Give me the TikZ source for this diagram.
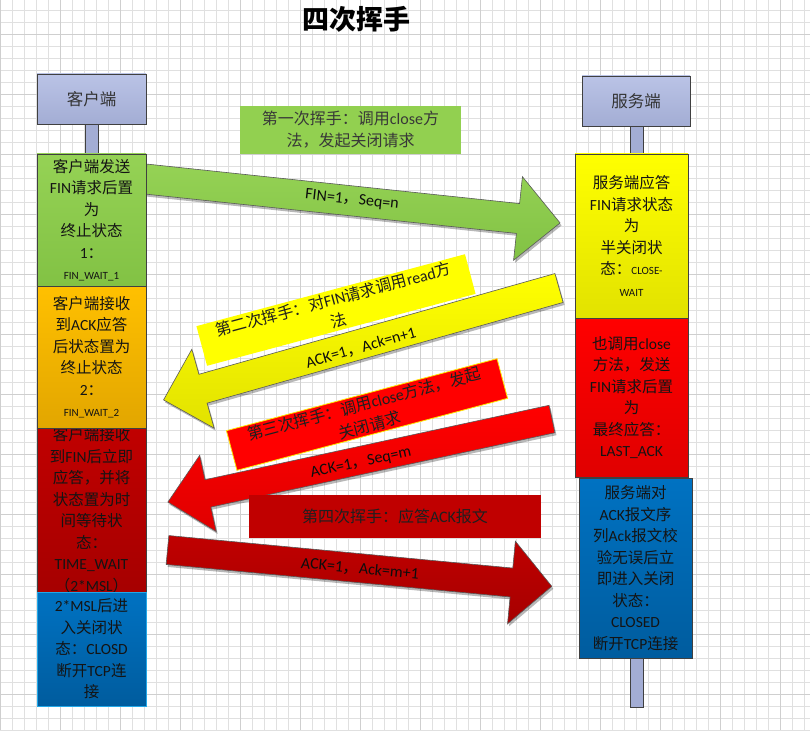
\documentclass[tikz,border=0pt]{standalone}
\usepackage{fontspec}
\setmainfont{Noto Sans CJK SC}
\newfontfamily\latf{Carlito}
\usetikzlibrary{shadows}
\newcommand\lt[1]{{\latf #1}}
\newcommand\sml[1]{{\fontsize{11}{21.5}\selectfont\latf #1}}
\definecolor{hdrtop}{HTML}{BAC3E6}
\definecolor{hdrbot}{HTML}{A3ADD4}
\definecolor{grtop}{HTML}{95D255}
\definecolor{grbot}{HTML}{82C244}
\definecolor{ortop}{HTML}{FFC000}
\definecolor{orbot}{HTML}{E2A600}
\definecolor{drtop}{HTML}{C00000}
\definecolor{drbot}{HTML}{A60000}
\definecolor{bltop}{HTML}{0072C2}
\definecolor{blbot}{HTML}{005C9E}
\definecolor{yetop}{HTML}{FFFF00}
\definecolor{yebot}{HTML}{E2E200}
\definecolor{rdtop}{HTML}{FF0000}
\definecolor{rdbot}{HTML}{E00000}
\definecolor{capgreen}{HTML}{92D050}
\definecolor{capdark}{HTML}{C00000}
\definecolor{blborder}{HTML}{22A8E8}
\tikzset{
  gridminor/.style={draw=black!12, line width=0.6pt},
  gridmajor/.style={draw=black!19, line width=0.8pt},
  hdr/.style={draw=black!75, line width=0.8pt, top color=hdrtop, bottom color=hdrbot,
    minimum width=109pt, minimum height=50pt, inner sep=0pt, text=black!80,
    font=\fontsize{16.5}{20}\selectfont},
  life/.style={draw=black!75, line width=0.8pt, fill=hdrbot, minimum width=13pt, inner sep=0pt},
  statebox/.style={draw=black!75, line width=0.7pt, inner sep=0pt, align=center,
    text=black!92, font=\fontsize{15.5}{21.5}\selectfont},
  blockarrow/.style={draw=black!65, line width=0.6pt,
    drop shadow={shadow xshift=1.5pt, shadow yshift=-2.5pt, opacity=0.28, fill=black}},
  arrowlbl/.style={inner sep=0pt, text=black!95, font=\fontsize{16}{18}\selectfont},
  caption/.style={inner sep=0pt, align=center, text=black!88,
    font=\fontsize{16}{22}\selectfont},
}
\begin{document}
\begin{tikzpicture}[x=1pt,y=-1pt]
\useasboundingbox (0,0) rectangle (810,730);
\fill[white] (0,0) rectangle (810,730);
% grid
\foreach \i in {0,...,67} {\draw[gridminor] (12*\i,0) -- (12*\i,730);}
\foreach \j in {0,...,60} {\draw[gridminor] (0,10+12*\j) -- (810,10+12*\j);}
\foreach \i in {0,5,...,65} {\draw[gridmajor] (12*\i,0) -- (12*\i,730);}
\foreach \j in {2,7,...,57} {\draw[gridmajor] (0,10+12*\j) -- (810,10+12*\j);}

% title
\node[font=\bfseries\fontsize{27}{30}\selectfont, inner sep=0pt] (title) at (356,19) {四次挥手};

% lifelines
\node[life, minimum height=30pt] (cll) at (91.5,139) {};
\node[life, minimum height=28pt] (sll1) at (636.5,140) {};
\node[life, minimum height=49pt] (sll2) at (636.5,682.5) {};

% headers
\node[hdr] (client) at (91.5,99) {客户端};
\node[hdr, minimum width=108pt] (server) at (636,101) {服务端};

% block arrows
\begin{scope}[shift={(145.4,179)}, rotate=-6.05]
  \path[blockarrow, top color=grtop, bottom color=grbot]
    (0,-15) -- (374.7,-15) -- (374.7,-42) -- (417,0) -- (374.7,42) -- (374.7,15) -- (0,15) -- cycle;
\end{scope}
\begin{scope}[shift={(559,288)}, rotate=15.8]
  \path[blockarrow, top color=yetop, bottom color=yebot]
    (0,-15) -- (-370,-15) -- (-370,-41) -- (-411,0) -- (-370,41) -- (-370,15) -- (0,15) -- cycle;
\end{scope}
\begin{scope}[shift={(552,419)}, rotate=12.2]
  \path[blockarrow, top color=rdtop, bottom color=rdbot]
    (0,-14) -- (-352,-14) -- (-352,-39) -- (-393,0) -- (-352,39) -- (-352,14) -- (0,14) -- cycle;
\end{scope}
\begin{scope}[shift={(167.5,550)}, rotate=-5.4]
  \path[blockarrow, top color=drtop, bottom color=drbot]
    (0,-14.5) -- (345.5,-14.5) -- (345.5,-41.5) -- (386,0) -- (345.5,41.5) -- (345.5,14.5) -- (0,14.5) -- cycle;
\end{scope}

% arrow labels
\node[arrowlbl, rotate=-6.05] (t1) at (352,200) {\lt{FIN=1}，\lt{Seq=n}};
\node[arrowlbl, rotate=15.8] (t2) at (361,348) {\lt{ACK=1}，\lt{Ack=n+1}};
\node[arrowlbl, rotate=12.2] (t3) at (361,463) {\lt{ACK=1}，\lt{Seq=m}};
\node[arrowlbl, rotate=-5.4] (t4) at (360,569) {\lt{ACK=1}，\lt{Ack=m+1}};

% captions
\node[caption, fill=capgreen, minimum width=221pt, minimum height=48pt, text=black!78] (k1) at (350.5,130)
  {第一次挥手：调用\lt{close}方\\法，发起关闭请求};
\node[caption, fill=yetop, rotate=15, minimum width=278pt, minimum height=41pt] (k2) at (336,310)
  {第二次挥手：对\lt{FIN}请求调用\lt{read}方\\法};
\node[caption, fill=rdtop, draw=yellow!90!orange, line width=0.8pt, rotate=14.9, minimum width=280pt, minimum height=41pt] (k3) at (367,414.5)
  {第三次挥手：调用\lt{close}方法，发起\\关闭请求};
\node[caption, fill=capdark, minimum width=292pt, minimum height=43pt] (k4) at (395,516.5)
  {第四次挥手：应答\lt{ACK}报文};

% client state boxes
\node[statebox, top color=drtop, bottom color=drbot, minimum width=109pt, minimum height=164pt] (c3) at (91.5,510)
  {客户端接收\\到\lt{FIN}后立即\\应答，并将\\状态置为时\\间等待状\\态：\\\lt{TIME\_WAIT}\\（\lt{2*MSL}）};
\node[statebox, top color=ortop, bottom color=orbot, minimum width=109pt, minimum height=142pt] (c2) at (91.5,357)
  {客户端接收\\到\lt{ACK}应答\\后状态置为\\终止状态\\\lt{2}：\\\sml{FIN\_WAIT\_2}};
\node[statebox, top color=grtop, bottom color=grbot, minimum width=109pt, minimum height=132pt] (c1) at (91.5,220)
  {客户端发送\\\lt{FIN}请求后置\\为\\终止状态\\\lt{1}：\\\sml{FIN\_WAIT\_1}};
\node[statebox, draw=blborder, top color=bltop, bottom color=blbot, minimum width=109pt, minimum height=114pt] (c4) at (91.5,649)
  {\lt{2*MSL}后进\\入关闭状\\态：\lt{CLOSD}\\断开\lt{TCP}连\\接};

% server state boxes
\node[statebox, top color=yetop, bottom color=yebot, minimum width=113pt, minimum height=164pt] (s1) at (631.5,236)
  {服务端应答\\\lt{FIN}请求状态\\为\\半关闭状\\态：\sml{CLOSE-}\\\sml{WAIT}};
\node[statebox, top color=rdtop, bottom color=rdbot, minimum width=113pt, minimum height=159pt] (s2) at (631.5,397.5)
  {也调用\lt{close}\\方法，发送\\\lt{FIN}请求后置\\为\\最终应答：\\\lt{LAST\_ACK}};
\node[statebox, top color=bltop, bottom color=blbot, minimum width=113pt, minimum height=180pt] (s3) at (635.5,568)
  {服务端对\\\lt{ACK}报文序\\列\lt{Ack}报文校\\验无误后立\\即进入关闭\\状态：\\\lt{CLOSED}\\断开\lt{TCP}连接};
\end{tikzpicture}
\end{document}
